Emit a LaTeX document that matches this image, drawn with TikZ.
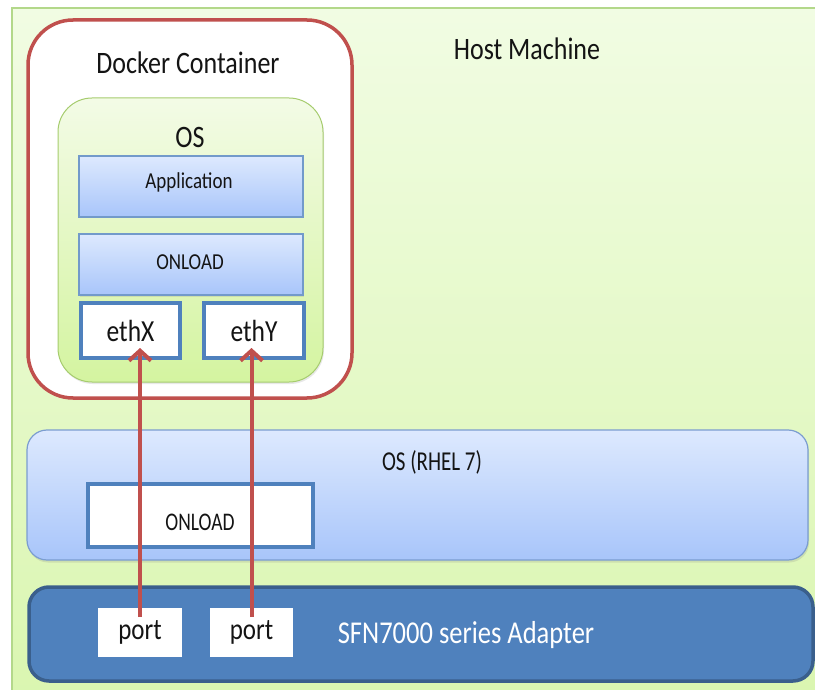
\documentclass[tikz,border=0pt]{standalone}
\usepackage{graphicx}
\usepackage{fontspec}
\setmainfont{Carlito}
\usetikzlibrary{arrows.meta,shadows}
\definecolor{redline}{HTML}{C0504D}
\definecolor{hostborder}{HTML}{B3D88A}
\definecolor{hosttop}{HTML}{F1FCE3}
\definecolor{hostbot}{HTML}{DAF6B0}
\definecolor{osborder}{HTML}{A6CC6E}
\definecolor{ostop}{HTML}{F3FBE6}
\definecolor{osbot}{HTML}{D4F4A0}
\definecolor{blueline}{HTML}{4F81BD}
\definecolor{bluetop}{HTML}{DDE9FE}
\definecolor{bluebot}{HTML}{A8C5FA}
\definecolor{rhelline}{HTML}{7B9DD0}
\definecolor{adaptfill}{HTML}{4F81BD}
\definecolor{adaptline}{HTML}{3A5F8C}
\definecolor{txt}{HTML}{141414}
\newcommand{\tx}[1]{\scalebox{1}[1.2]{#1}}
\newcommand{\fs}[1]{\fontsize{#1}{#1}\selectfont}
\begin{document}
\begin{tikzpicture}[x=1pt,y=-1pt,
  box/.style={rectangle, inner sep=0pt, outer sep=0pt},
  hostbox/.style={box, draw=hostborder, line width=1.2pt, top color=hosttop, bottom color=hostbot},
  dockerbox/.style={box, rounded corners=45pt, draw=redline, line width=3.5pt, fill=white},
  osbox/.style={box, rounded corners=34pt, draw=osborder, line width=1pt, top color=ostop, bottom color=osbot,
     drop shadow={opacity=0.18, shadow xshift=1pt, shadow yshift=-2pt}},
  bluebox/.style={box, draw=blueline!80, line width=1.3pt, top color=bluetop, bottom color=bluebot,
     drop shadow={opacity=0.18, shadow xshift=1pt, shadow yshift=-1.5pt}},
  ethbox/.style={box, draw=blueline, line width=4pt, fill=white, text=txt, font=\fs{25.5}},
  rhelbox/.style={box, rounded corners=20pt, draw=rhelline, line width=1.2pt, top color=bluetop, bottom color=bluebot,
     drop shadow={opacity=0.2, shadow xshift=1pt, shadow yshift=-2.5pt}},
  adaptbox/.style={box, rounded corners=20pt, draw=adaptline, line width=3.5pt, fill=adaptfill},
  portbox/.style={box, fill=white, text=txt, font=\fs{25}},
  lbl/.style={inner sep=0pt, text=txt},
  link/.style={draw=redline, line width=4pt, -{Straight Barb[length=10pt, width=22pt, line width=4pt]}}
]
\useasboundingbox (0,0) rectangle (815,690);
% host
\node[hostbox, minimum width=820pt, minimum height=692pt, anchor=north west] (host) at (12,8) {};
\node[lbl, font=\fs{26}] (hostlbl) at (527,49) {\tx{Host Machine}};
% docker container
\node[dockerbox, minimum width=324pt, minimum height=378pt] (docker) at (190,209) {};
\node[lbl, font=\fs{26}] (dockerlbl) at (188,63) {\tx{Docker Container}};
% container OS
\node[osbox, minimum width=265pt, minimum height=284pt] (cos) at (190.5,240) {};
\node[lbl, font=\fs{26}] (coslbl) at (190,137) {\tx{OS}};
\node[bluebox, minimum width=224pt, minimum height=61pt] (app) at (191,186.5) {};
\node[lbl, font=\fs{19}] (applbl) at (189,182) {\tx{Application}};
\node[bluebox, minimum width=224pt, minimum height=61pt] (onl1) at (191,264.5) {};
\node[lbl, font=\fs{19}] (onl1lbl) at (190,262) {\tx{ONLOAD}};
\node[ethbox, minimum width=99pt, minimum height=55pt] (ethx) at (130.5,330.5) {\tx{ethX}};
\node[ethbox, minimum width=100pt, minimum height=55pt] (ethy) at (254,330.5) {\tx{ethY}};
% host OS
\node[rhelbox, minimum width=781pt, minimum height=130pt] (rhel) at (417.5,495) {};
\node[lbl, font=\fs{21}] (rhellbl) at (432,462) {\scalebox{1}[1.3]{OS (RHEL 7)}};
\node[box, draw=blueline, line width=3.5pt, fill=white, minimum width=225pt, minimum height=63pt] (onl2) at (200.5,515.5) {};
\node[lbl, font=\fs{19.5}] (onl2lbl) at (200,522) {\scalebox{1}[1.3]{ONLOAD}};
% adapter
\node[adaptbox, minimum width=784pt, minimum height=94pt] (adapt) at (421,634) {};
\node[lbl, font=\fs{26.5}, text=white] (adaptlbl) at (466,635) {\tx{SFN7000 series Adapter}};
\node[portbox, minimum width=84pt, minimum height=49pt] (p1) at (140,632.5) {\tx{port}};
\node[portbox, minimum width=83pt, minimum height=49pt] (p2) at (251.5,632.5) {\tx{port}};
% links
\draw[link] ([yshift=-9pt]p1.north) -- ([yshift=10pt]p1.north |- ethx.south);
\draw[link] ([yshift=-9pt]p2.north) -- ([yshift=10pt]p2.north |- ethy.south);
\end{tikzpicture}
\end{document}
